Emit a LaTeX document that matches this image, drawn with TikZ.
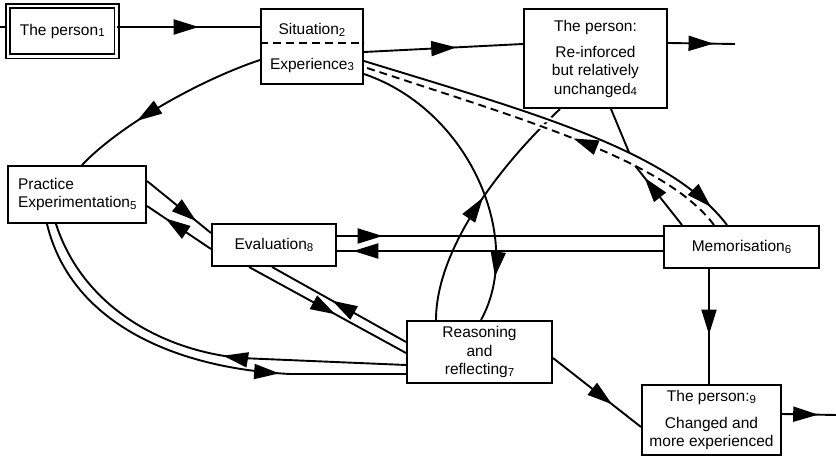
\documentclass[tikz,border=0pt]{standalone}
\usepackage{fontspec}
\setmainfont{Liberation Sans}
\usetikzlibrary{arrows.meta,decorations.markings,calc}
\newcommand\sbs[1]{\raisebox{-1.5pt}{\fontsize{11.5}{12}\selectfont #1}}
\tikzset{
  ln/.style={line width=1.9pt},
  box/.style={draw, line width=2pt, rectangle, inner sep=0pt, align=center, font=\fontsize{15.5}{18.5}\selectfont},
  txt/.style={inner sep=0pt, font=\fontsize{15.5}{18.5}\selectfont},
  dsh/.style={dash pattern=on 8pt off 5pt},
  halo/.style={white, line width=6pt},
  arrat/.style={postaction={decorate}, decoration={markings, mark=at position #1 with {\arrow{Triangle[length=25pt,width=15pt]}}}},
}
\begin{document}
\begin{tikzpicture}[x=1pt,y=-1pt]
\fill[white] (0,0) rectangle (836,457);
\useasboundingbox (0,0) rectangle (836,457);

% boxes
\node[box, double, double distance=2.2pt, line width=1.9pt, minimum width=108.5pt, minimum height=50.5pt] (p1) at (62.25,31.25) {The person\sbs{1}};
\node[box, minimum width=102pt, minimum height=75pt] (sit) at (312,46.5) {};
\node[txt] (sitt) at (312,30) {Situation\sbs{2}};
\node[txt] (expt) at (312,65) {Experience\sbs{3}};
\draw[ln, dsh] ($(sit.north west)+(0,35)$) -- ($(sit.north east)+(0,35)$);
\node[box, minimum width=143pt, minimum height=99pt] (p4) at (595.5,58.5) {The person:\\[7.5pt]Re-inforced\\but relatively\\unchanged\sbs{4}};
\node[box, minimum width=138pt, minimum height=57pt, text width=118pt, align=left] (pra) at (77,194.5) {Practice\\Experimentation\sbs{5}};
\node[box, minimum width=124pt, minimum height=42pt] (eva) at (274,245) {Evaluation\sbs{8}};
\node[box, minimum width=155pt, minimum height=42pt] (mem) at (741.5,247) {Memorisation\sbs{6}};
\node[box, minimum width=145pt, minimum height=62pt] (rea) at (479.5,352) {Reasoning\\and\\reflecting\sbs{7}};
\node[box, minimum width=139pt, minimum height=70pt] (p9) at (711.5,420) {The person:\sbs{9}\\[8pt]Changed and\\more experienced};

\coordinate (lin) at (0,27);
\coordinate (p4out) at (735,44);
\coordinate (p9out) at (836,415);

% straight connectors
\draw[ln] (lin) -- (p1.west |- lin);
\draw[ln, arrat=0.57] (p1.east |- lin) -- (sit.west |- lin);
\draw[ln, arrat=0.58] ($(sit.north east)+(0,44)$) -- ($(p4.north west)+(0,36)$);
\draw[ln, arrat=0.68] ($(p4.north east)+(0,35)$) -- (p4out);
\draw[ln, arrat=0.67] ($(p9.north east)+(0,30)$) -- (p9out);
\draw[ln, arrat=0.77] ($(pra.north east)+(0,16)$) -- ($(eva.north west)+(0,10)$);
\draw[ln, arrat=0.71] ($(eva.north west)+(0,26)$) -- ($(pra.north east)+(0,41)$);
\draw[ln, arrat=0.14] ($(eva.north east)+(0,13)$) -- ($(mem.north west)+(0,11)$);
\draw[ln, arrat=0.95] ($(mem.north west)+(0,26)$) -- ($(eva.north east)+(0,28)$);
\draw[ln, arrat=0.55] ($(eva.south west)+(38,0)$) -- ($(rea.north west)+(0,33)$);
\draw[ln, arrat=0.55] ($(rea.north west)+(0,22)$) -- ($(eva.south west)+(61,0)$);
\draw[ln, arrat=0.57] ($(mem.south west)+(46,0)$) -- ($(p9.north west)+(68,0)$);
\draw[ln, arrat=0.67] ($(rea.north east)+(0,38)$) -- ($(p9.north west)+(0,43)$);

% curves
\draw[ln, arrat=0.66] ($(sit.north west)+(0,52)$) .. controls (200,80) and (120,125) .. ($(pra.north west)+(75,0)$);
\draw[ln, arrat=0.85] ($(sit.north east)+(0,66)$) .. controls (470,110) and (525,240) .. ($(rea.north west)+(75,0)$);
\draw[ln, arrat=0.70] ($(pra.south west)+(40,0)$) .. controls (70,320) and (170,368) .. (290,374) -- ($(rea.north west)+(0,54)$);
\draw[ln, arrat=0.45] ($(rea.north west)+(0,45)$) -- (240,358) .. controls (160,350) and (82,305) .. ($(pra.south west)+(49,0)$);
\draw[ln, arrat=0.53] ($(rea.north west)+(30,0)$) .. controls (436,255) and (490,175) .. ($(p4.south west)+(37,0)$);

% gaps where the curves pass over
\begin{scope}
\clip (528,110) rectangle (562,140);
\draw[halo] ($(sit.north east)+(0,53)$) .. controls (530,112) and (670,150) .. ($(mem.north west)+(64,0)$);
\draw[halo] ($(mem.north west)+(51,0)$) .. controls (665,160) and (525,120) .. ($(sit.north east)+(0,59)$);
\end{scope}

\draw[ln, arrat=0.94] ($(sit.north east)+(0,53)$) .. controls (530,112) and (670,150) .. coordinate[pos=0.62] (sc) ($(mem.north west)+(64,0)$);
\draw[ln, dsh, arrat=0.43] ($(mem.north west)+(51,0)$) .. controls (665,160) and (525,120) .. coordinate[pos=0.34] (dc) ($(sit.north east)+(0,59)$);
\draw[ln, arrat=0.8] ($(mem.north west)+(19,0)$) -- (dc);
\draw[ln] ($(p4.south west)+(88,0)$) -- (sc);
\end{tikzpicture}
\end{document}
